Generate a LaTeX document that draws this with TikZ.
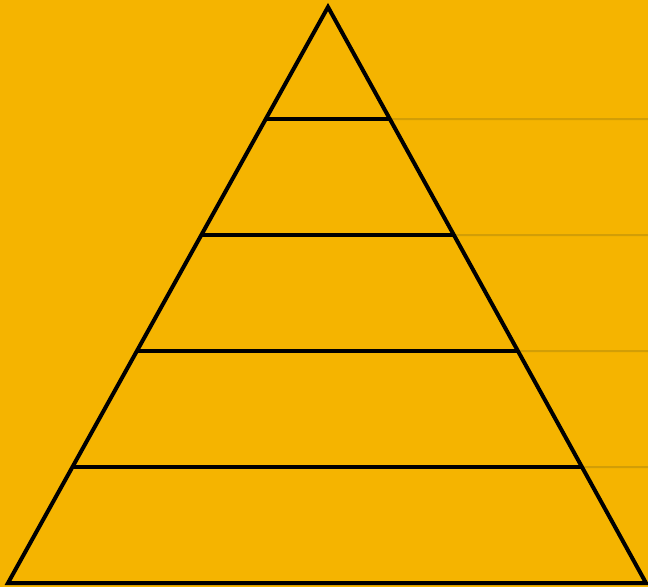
\documentclass[tikz,border=0pt]{standalone}
\usepackage{tikz}
\usetikzlibrary{calc}
\definecolor{pyrback}{HTML}{F5B400}
\definecolor{pyrguide}{HTML}{D29E06}

\begin{document}
\begin{tikzpicture}[x=0.03cm,y=-0.03cm]
    \fill[pyrback] (0,0) rectangle (648,587);
    \useasboundingbox (0,0) rectangle (648,587);

    \coordinate (apex) at (328,7);
    \coordinate (bl) at (8,583);
    \coordinate (br) at (646,583);

    % faint guide lines to the right
    \foreach \y in {119,235,351,467} {
        \coordinate (r\y) at ($(apex)!{(\y-7)/576}!(br)$);
        \coordinate (e\y) at (648,\y);
        \draw[pyrguide, line width=0.06cm] (r\y) -- (e\y);
    }

    % levels
    \foreach \y in {119,235,351,467} {
        \coordinate (l\y) at ($(apex)!{(\y-7)/576}!(bl)$);
        \coordinate (r\y) at ($(apex)!{(\y-7)/576}!(br)$);
        \draw[black, line width=0.12cm] (l\y) -- (r\y);
    }

    \draw[black, line width=0.12cm] (apex) -- (br) -- (bl) -- cycle;
\end{tikzpicture}
\end{document}
